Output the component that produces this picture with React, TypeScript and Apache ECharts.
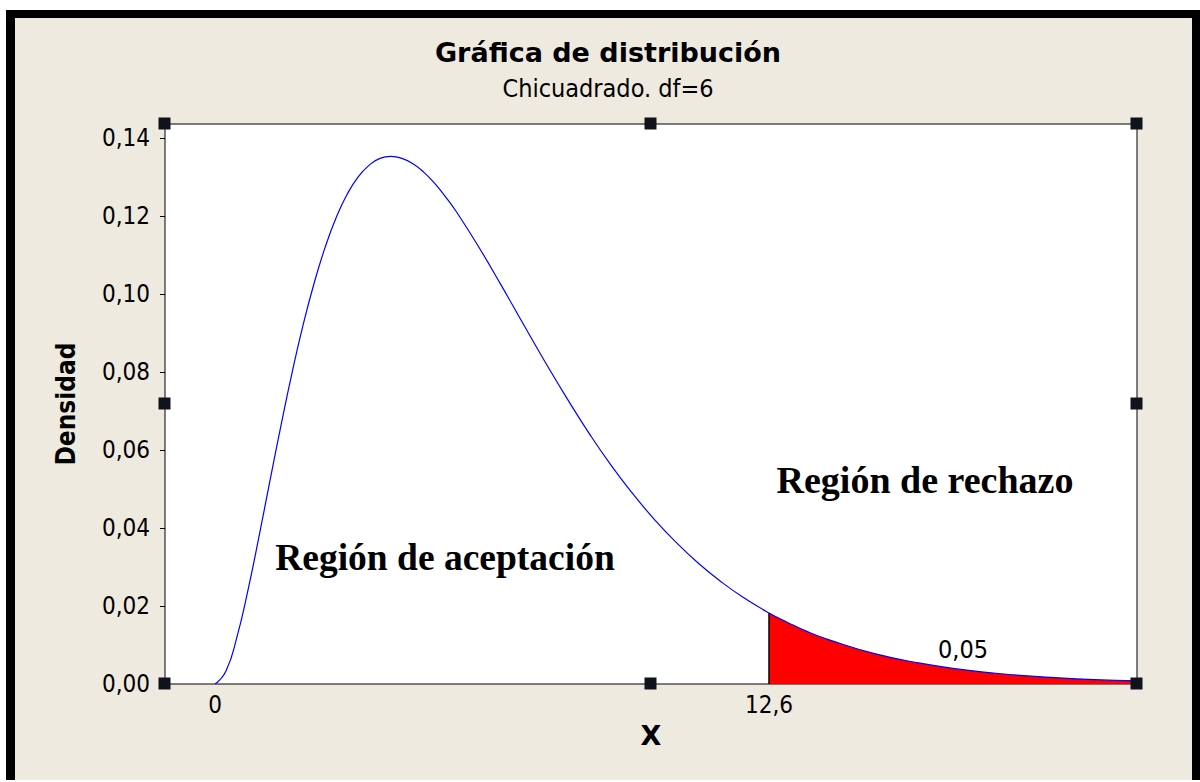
import React, { useEffect, useRef } from "react";
import * as echarts from "echarts";

// ---- data ----
const xValues = [0, 0.25, 0.5, 0.75, 1, 1.25, 1.5, 1.75, 2, 2.25, 2.5, 2.75, 3, 3.25, 3.5, 3.75, 4, 4.25, 4.5, 4.75, 5, 5.25, 5.5, 6, 6.5, 7, 7.5, 8, 8.5, 9, 9.5, 10, 10.5, 11, 11.5, 12, 12.6, 13, 13.5, 14, 15, 16, 17, 18, 19, 20, 20.97];
const density = [0, 0.0034, 0.0122, 0.0242, 0.0379, 0.0523, 0.0664, 0.0798, 0.092, 0.1027, 0.1119, 0.1195, 0.1255, 0.13, 0.133, 0.1348, 0.1353, 0.1348, 0.1334, 0.1312, 0.1283, 0.1248, 0.1209, 0.112, 0.1024, 0.0925, 0.0827, 0.0733, 0.0644, 0.0562, 0.0488, 0.0421, 0.0362, 0.0309, 0.0263, 0.0223, 0.0182, 0.0159, 0.0133, 0.0112, 0.0078, 0.0054, 0.0037, 0.0025, 0.0017, 0.0011, 0.0008];
const criticalValue = 12.6;
const xTickLabels = [0, 12.6];
const yTickValues = [0, 0.02, 0.04, 0.06, 0.08, 0.1, 0.12, 0.14];
const tailProbabilityLabel = "0,05";
const titleText = "Gráfica de distribución";
const subtitleText = "Chicuadrado. df=6";
const acceptLabel = "Región de aceptación";
const rejectLabel = "Región de rechazo";

// ---- layout ----
const W = 1200;
const H = 782;
const PL = 165, PT = 124, PR = 1137, PB = 684;
const BG = "#EEEAE0";
const SANS_C = "'DejaVu Sans Condensed', 'DejaVu Sans', sans-serif";
const SANS = "'DejaVu Sans', sans-serif";
const SERIF = "'Liberation Serif', 'DejaVu Serif', serif";

const fmt = (v: number, d: number) => v.toFixed(d).replace(".", ",");

export default function App() {
  const ref = useRef<HTMLDivElement>(null);
  useEffect(() => {
    if (!ref.current) return;
    const chart = echarts.init(ref.current, undefined, { renderer: "svg" });
    const curve = xValues.map((x, i) => [x, density[i]]);
    const tail = curve.filter((p) => p[0] >= criticalValue);
    const critY = density[xValues.indexOf(criticalValue)];
    const handles: any[] = [];
    const hx = [PL, (PL + PR) / 2, PR];
    const hy = [PT, (PT + PB) / 2, PB];
    hx.forEach((x, i) =>
      hy.forEach((y, j) => {
        if (i === 1 && j === 1) return;
        handles.push({
          type: "rect",
          shape: { x: x - 6.5, y: y - 6.5, width: 12, height: 12 },
          style: { fill: "#11131c" },
          z: 100,
        });
      })
    );
    chart.setOption({
      animation: false,
      backgroundColor: "transparent",
      title: [
        {
          text: titleText,
          left: 603,
          top: 34,
          textAlign: "center",
          textStyle: { fontFamily: SANS, fontWeight: "bold", fontSize: 27, color: "#000" },
        },
        {
          text: subtitleText,
          left: 603,
          top: 71,
          textAlign: "center",
          textStyle: { fontFamily: SANS_C, fontWeight: "normal", fontSize: 25, color: "#000" },
        },
      ],
      grid: {
        left: PL,
        top: PT,
        right: W - PR,
        bottom: H - PB,
        show: true,
        backgroundColor: "#fff",
        borderColor: "#000",
        borderWidth: 1,
        containLabel: false,
      },
      xAxis: {
        type: "value",
        min: -1.14,
        max: 20.97,
        name: "X",
        nameLocation: "middle",
        nameGap: 34,
        nameTextStyle: { fontFamily: SANS, fontWeight: "bold", fontSize: 27, color: "#000" },
        axisLine: { show: false },
        axisTick: { show: false },
        splitLine: { show: false },
        axisLabel: {
          customValues: xTickLabels,
          formatter: (v: number) => (v === 0 ? "0" : fmt(v, 1)),
          fontFamily: SANS_C,
          fontSize: 24,
          color: "#000",
          margin: 9,
        },
      },
      yAxis: {
        type: "value",
        min: 0,
        max: 0.1436,
        name: "Densidad",
        nameLocation: "middle",
        nameGap: 86,
        nameRotate: 90,
        nameTextStyle: { fontFamily: SANS_C, fontWeight: "bold", fontSize: 26, color: "#000" },
        axisLine: { show: false, onZero: false },
        axisTick: { show: true, customValues: yTickValues, length: 5, lineStyle: { color: "#000" } },
        splitLine: { show: false },
        axisLabel: {
          customValues: yTickValues,
          formatter: (v: number) => fmt(v, 2),
          fontFamily: SANS_C,
          fontSize: 24,
          color: "#000",
          margin: 15,
        },
      },
      series: [
        {
          type: "line",
          data: tail,
          smooth: true,
          showSymbol: false,
          lineStyle: { width: 0, color: "#0000ff" },
          areaStyle: { color: "#ff0000", opacity: 1 },
          z: 2,
          silent: true,
          markLine: {
            silent: true,
            symbol: ["none", "none"],
            label: { show: false },
            lineStyle: { color: "#000", width: 1.5, type: "solid" },
            data: [[{ coord: [criticalValue, 0] }, { coord: [criticalValue, critY] }]],
          },
        },
        {
          type: "line",
          data: curve,
          smooth: true,
          showSymbol: false,
          lineStyle: { width: 1.2, color: "#0000ff" },
          z: 3,
          silent: true,
        },
      ],
      graphic: [
        ...handles,
        {
          type: "text",
          x: 445,
          y: 557,
          style: { text: acceptLabel, font: `bold 37.5px ${SERIF}`, fill: "#000", align: "center", verticalAlign: "middle" },
          z: 50,
        },
        {
          type: "text",
          x: 925,
          y: 480,
          style: { text: rejectLabel, font: `bold 38px ${SERIF}`, fill: "#000", align: "center", verticalAlign: "middle" },
          z: 50,
        },
        {
          type: "text",
          x: 963,
          y: 649,
          style: { text: tailProbabilityLabel, font: `25px ${SANS_C}`, fill: "#000", align: "center", verticalAlign: "middle" },
          z: 50,
        },
      ],
    });
    return () => chart.dispose();
  }, []);

  return (
    <div style={{ position: "fixed", left: 0, top: 0, width: W, height: H, background: "#fff" }}>
      <div style={{ position: "absolute", left: 6, top: 10, width: W - 6, height: 770, background: "#000" }} />
      <div style={{ position: "absolute", left: 15, top: 18, width: 1177, height: 762, background: BG }} />
      <div ref={ref} style={{ position: "absolute", left: 0, top: 0, width: W, height: H }} />
    </div>
  );
}
